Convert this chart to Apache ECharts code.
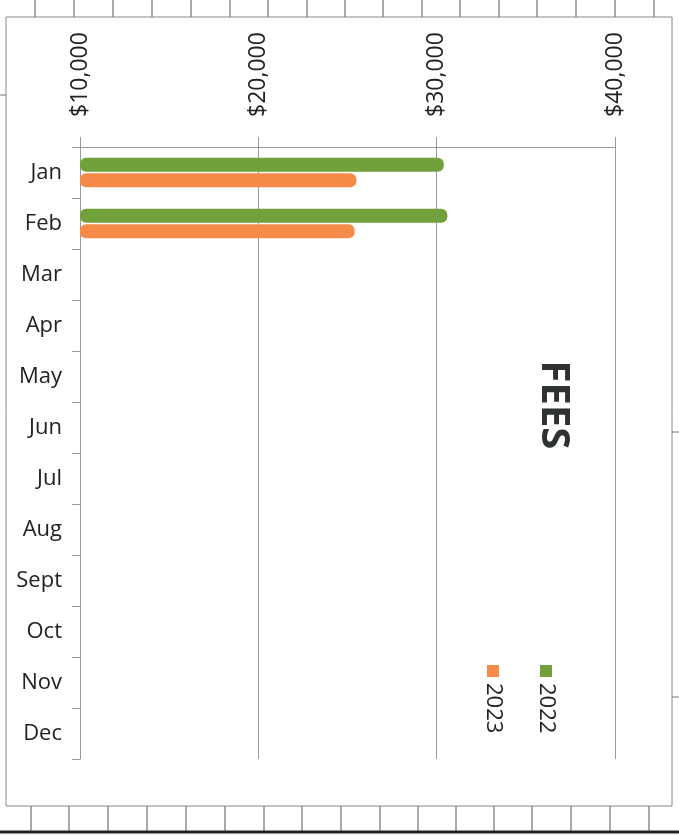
<!DOCTYPE html>
<html><head><meta charset="utf-8">
<script src="https://cdn.jsdelivr.net/npm/echarts@6/dist/echarts.min.js"></script>
<style>html,body{margin:0;padding:0;background:#fff}#c{width:679px;height:835px}</style>
</head><body><div id="c"></div>
<script>
const categories = ['Jan','Feb','Mar','Apr','May','Jun','Jul','Aug','Sept','Oct','Nov','Dec'];
const fees2022 = [30400, 30600, null, null, null, null, null, null, null, null, null, null];
const fees2023 = [25500, 25400, null, null, null, null, null, null, null, null, null, null];
const valueTicks = [10000, 20000, 30000, 40000];
const seriesNames = ['2022', '2023'];
const colors = {'2022': '#72a03a', '2023': '#f68a48'};

const chart = echarts.init(document.getElementById('c'));
const FONT = '"Open Sans", "Liberation Sans", sans-serif';

// paper table lines (scan decoration)
const deco = [];
const topXs = [35,74,113,152,191,230,268,307,345,383,422,460,499,537,576,615,654];
topXs.forEach(x => deco.push({type:'line', shape:{x1:x,y1:0,x2:x,y2:17}, style:{stroke:'#555', lineWidth:1}}));
const botXs = [31,69,108,147,186,225,264,302,341,380,418,456,494,532,571,610,649];
botXs.forEach(x => deco.push({type:'line', shape:{x1:x,y1:806,x2:x,y2:831}, style:{stroke:'#555', lineWidth:1}}));
deco.push({type:'line', shape:{x1:0,y1:832,x2:679,y2:832}, style:{stroke:'#222', lineWidth:3}});
deco.push({type:'rect', shape:{x:6,y:17,width:666,height:789}, style:{fill:'none', stroke:'#888', lineWidth:1}});
deco.push({type:'line', shape:{x1:0,y1:95,x2:6,y2:95}, style:{stroke:'#777', lineWidth:1}});
deco.push({type:'line', shape:{x1:672,y1:432,x2:679,y2:432}, style:{stroke:'#777', lineWidth:1}});
deco.push({type:'line', shape:{x1:672,y1:697,x2:679,y2:697}, style:{stroke:'#777', lineWidth:1}});

// title rotated
deco.push({type:'text', x:553, y:405, rotation:-Math.PI/2,
  style:{text:'FEES', font:'bold 40px ' + FONT, fill:'#2e3330', textAlign:'center', textVerticalAlign:'middle'}});

// legend rotated
const legendPos = {'2022': 546, '2023': 493};
seriesNames.forEach(n => {
  const x = legendPos[n];
  deco.push({type:'rect', shape:{x:x-6, y:665, width:12, height:12}, style:{fill:colors[n]}});
  deco.push({type:'text', x:x, y:683, rotation:-Math.PI/2,
    style:{text:n, font:'22px ' + FONT, fill:'#222', textAlign:'left', textVerticalAlign:'middle'}});
});

chart.setOption({
  backgroundColor: '#fff',
  animation: false,
  grid: {left: 80, top: 147, width: 535, height: 612, containLabel: false},
  xAxis: {
    type: 'value', position: 'top', min: 10000, max: 40000, interval: 10000,
    axisLine: {show: true, lineStyle: {color: '#999'}},
    axisTick: {show: true, length: 10, lineStyle: {color: '#999'}},
    splitLine: {show: true, lineStyle: {color: '#999', width: 1}},
    axisLabel: {rotate: -90, margin: 30, fontSize: 23, color: '#222', fontFamily: FONT,
      formatter: v => valueTicks.includes(v) ? '$' + v.toLocaleString('en-US') : ''}
  },
  yAxis: {
    type: 'category', data: categories, inverse: true,
    axisLine: {show: true, lineStyle: {color: '#999'}},
    axisTick: {show: true, length: 8, lineStyle: {color: '#999'}},
    axisLabel: {fontSize: 22, color: '#222', fontFamily: FONT, margin: 18}
  },
  series: [
    {name: '2022', type: 'bar', data: fees2022, barWidth: 14, barGap: '10%',
      itemStyle: {color: colors['2022'], borderRadius: 6}},
    {name: '2023', type: 'bar', data: fees2023, barWidth: 14, barGap: '10%',
      itemStyle: {color: colors['2023'], borderRadius: 6}}
  ],
  graphic: deco
});
</script></body></html>
